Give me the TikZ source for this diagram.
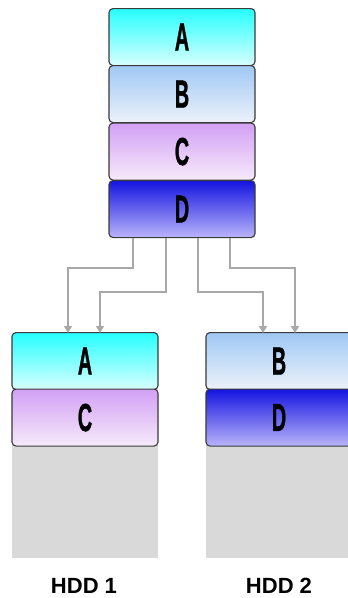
\documentclass[tikz,border=0pt]{standalone}
\usepackage{fontspec}
\setmainfont{Liberation Sans}
\newfontfamily\heavy[BoldFeatures={FakeBold=1.5}]{Liberation Sans}
\usetikzlibrary{shadings,arrows.meta}
\definecolor{edgegray}{HTML}{3A3A3A}
\definecolor{arrowgray}{HTML}{A8A8A8}
\definecolor{diskgray}{HTML}{D9D9D9}
\tikzset{
  x=1pt, y=-1pt,
  blk/.style={draw=edgegray, line width=1.1pt, rounded corners=4pt,
    minimum width=146pt, minimum height=57pt, inner sep=0pt, anchor=north,
    font=\heavy\fontsize{33}{33}\selectfont\bfseries},
  ablk/.style={blk, top color=cyan!85!white, bottom color=cyan!15!white},
  bblk/.style={blk, top color={rgb,255:red,160;green,200;blue,245}, bottom color={rgb,255:red,236;green,242;blue,250}},
  cblk/.style={blk, top color={rgb,255:red,210;green,160;blue,245}, bottom color={rgb,255:red,246;green,234;blue,250}},
  dblk/.style={blk, top color={rgb,255:red,20;green,20;blue,225}, bottom color={rgb,255:red,185;green,180;blue,250}},
  disk/.style={fill=diskgray, draw=none, minimum width=146pt, minimum height=113pt, inner sep=0pt, anchor=north},
  link/.style={draw=arrowgray, line width=1.3pt, -{Triangle[length=7pt,width=8pt]}},
  hdd/.style={font=\fontsize{22}{22}\selectfont\bfseries}
}
\newcommand{\lbl}[1]{\scalebox{0.6}[1.18]{#1}}
\begin{document}
\begin{tikzpicture}
\clip (0,0) rectangle (348,598);
\fill[white] (0,0) rectangle (348,598);
% top stack
\node[ablk] (tA) at (182,8) {\lbl{A}};
\node[bblk] (tB) at (182,65) {\lbl{B}};
\node[cblk] (tC) at (182,122.5) {\lbl{C}};
\node[dblk] (tD) at (182,180) {\lbl{D}};
% HDD 1
\node[disk] (g1) at (85,445) {};
\node[ablk] (lA) at (85,332) {\lbl{A}};
\node[cblk] (lC) at (85,388.5) {\lbl{C}};
% HDD 2
\node[disk] (g2) at (279,445) {};
\node[bblk] (rB) at (279,332) {\lbl{B}};
\node[dblk] (rD) at (279,388.5) {\lbl{D}};
% labels
\node[hdd] (h1) at (84,586) {HDD 1};
\node[hdd] (h2) at (279,586) {HDD 2};
% arrows
\coordinate (s1) at ([xshift=-49pt]tD.south);
\coordinate (s2) at ([xshift=-16pt]tD.south);
\coordinate (s3) at ([xshift=16pt]tD.south);
\coordinate (s4) at ([xshift=48pt]tD.south);
\coordinate (e1) at ([xshift=-17pt]lA.north);
\coordinate (e2) at ([xshift=15pt]lA.north);
\coordinate (e3) at ([xshift=-16pt]rB.north);
\coordinate (e4) at ([xshift=16pt]rB.north);
\draw[link] (s1) -- (s1 |- 0,268) -- (e1 |- 0,268) -- ([yshift=-1pt]e1);
\draw[link] (s2) -- (s2 |- 0,292) -- (e2 |- 0,292) -- ([yshift=-1pt]e2);
\draw[link] (s3) -- (s3 |- 0,292) -- (e3 |- 0,292) -- ([yshift=-1pt]e3);
\draw[link] (s4) -- (s4 |- 0,268) -- (e4 |- 0,268) -- ([yshift=-1pt]e4);
\end{tikzpicture}
\end{document}
